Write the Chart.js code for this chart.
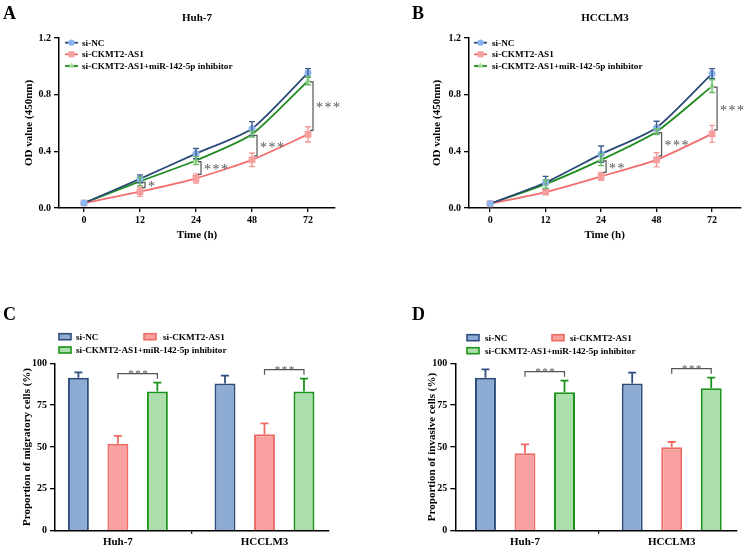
<!DOCTYPE html>
<html><head><meta charset="utf-8">
<script src="https://cdn.jsdelivr.net/npm/chart.js@4.4.0/dist/chart.umd.min.js"></script>
<style>
body{margin:0;background:#fff;width:745px;height:550px;position:relative;overflow:hidden;font-family:'Liberation Serif','Times New Roman',serif;}
.pane{position:absolute}
.lbl{position:absolute;font-weight:bold;color:#000;white-space:nowrap;line-height:1}
.ttl{position:absolute;font-weight:bold;color:#000;white-space:nowrap;font-size:11px;line-height:11px;transform:translate(-50%,-50%)}
</style></head><body>
<div class="pane" style="left:0;top:0"><canvas id="cA" width="372" height="250"></canvas></div>
<div class="pane" style="left:372px;top:0"><canvas id="cB" width="373" height="250"></canvas></div>
<div class="pane" style="left:0;top:270px"><canvas id="cC" width="372" height="280"></canvas></div>
<div class="pane" style="left:372px;top:270px"><canvas id="cD" width="373" height="280"></canvas></div>
<div class="lbl" style="left:3px;top:4px;font-size:18px">A</div>
<div class="lbl" style="left:412px;top:4px;font-size:18px">B</div>
<div class="lbl" style="left:3px;top:305px;font-size:18px">C</div>
<div class="lbl" style="left:412px;top:305px;font-size:18px">D</div>
<div class="ttl" style="left:197px;top:17px">Huh-7</div>
<div class="ttl" style="left:605px;top:17px">HCCLM3</div>
<script>
// ---------- DATA ----------
const timeLabels = ['0','12','24','48','72'];
const seriesNames = ['si-NC','si-CKMT2-AS1','si-CKMT2-AS1+miR-142-5p inhibitor'];
const odTicks = [0, 0.4, 0.8, 1.2];

const huh7NC      = [0.035, 0.206, 0.384, 0.560, 0.954];
const huh7NC_sd   = [0, 0.028, 0.036, 0.050, 0.030];
const huh7KD      = [0.035, 0.115, 0.209, 0.340, 0.520];
const huh7KD_sd   = [0, 0.033, 0.032, 0.047, 0.054];
const huh7INH     = [0.035, 0.188, 0.335, 0.520, 0.898];
const huh7INH_sd  = [0, 0.030, 0.028, 0.020, 0.028];
const huh7Sig     = ['', '*', '***', '***', '***'];

const lm3NC       = [0.030, 0.180, 0.380, 0.567, 0.949];
const lm3NC_sd    = [0, 0.043, 0.058, 0.045, 0.035];
const lm3KD       = [0.030, 0.112, 0.223, 0.340, 0.523];
const lm3KD_sd    = [0, 0.015, 0.028, 0.050, 0.060];
const lm3INH      = [0.030, 0.169, 0.340, 0.539, 0.860];
const lm3INH_sd   = [0, 0.030, 0.040, 0.020, 0.045];
const lm3Sig      = ['', '', '**', '***', '***'];

const cellLines = ['Huh-7','HCCLM3'];
const pctTicks = [0, 25, 50, 75, 100];
const migNC    = [91.4, 88.0];  const migNC_sd  = [3.2, 4.6];
const migKD    = [52.0, 57.6];  const migKD_sd  = [4.6, 6.5];
const migINH   = [83.1, 83.1];  const migINH_sd = [5.3, 7.7];
const migSig   = ['***','***'];
const invNC    = [91.4, 88.0];  const invNC_sd  = [5.0, 6.4];
const invKD    = [46.2, 49.8];  const invKD_sd  = [5.4, 3.2];
const invINH   = [82.7, 85.1];  const invINH_sd = [6.9, 6.3];
const invSig   = ['***','***'];

// ---------- STYLE ----------
const FONT = "'Liberation Serif','Times New Roman',serif";
const LINE_COL = ['#2c4a78','#f26d6d','#1e8c1e'];
const MARK_COL = ['#8cb6f2','#f6a0a0','#a4dc9e'];
const ERR_COL  = ['#3d5d8d','#f39a9a','#6cbf6a'];
const PSTYLE = ['circle','rect','triangle'];
const PRAD = [3.5, 4.8, 4];
const BAR_FILL = ['#8eabd3','#f9a1a1','#acdfab'];
const BAR_EDGE = ['#2d4d7d','#ee6a62','#1a931a'];
const SIG_COL = '#555';
const LEG_FONT = 'bold 9.2px ' + FONT;

function drawMarker(ctx, style, x, y, r, col){
  ctx.fillStyle = col;
  ctx.beginPath();
  if (style === 'circle') ctx.arc(x, y, r, 0, Math.PI*2);
  else if (style === 'rect') { const s = r*Math.SQRT1_2; ctx.rect(x-s, y-s, 2*s, 2*s); }
  else { ctx.moveTo(x, y-r); ctx.lineTo(x+r*0.866, y+r*0.5); ctx.lineTo(x-r*0.866, y+r*0.5); ctx.closePath(); }
  ctx.fill();
}

function axisCommon(tickLen){
  return {
    grid: {drawOnChartArea:false, drawTicks:true, tickLength:tickLen, color:'#000', lineWidth:1.3},
    border: {display:true, color:'#000', width:1.5}
  };
}

function lineChart(id, g, vals, sds, sig){
  const datasets = vals.map((v,k)=>({
    label: seriesNames[k],
    data: v.map((y,i)=>({x:i, y})),
    borderColor: LINE_COL[k], backgroundColor: MARK_COL[k],
    pointBackgroundColor: MARK_COL[k], pointBorderColor: MARK_COL[k], pointBorderWidth: 0,
    pointStyle: PSTYLE[k], pointRadius: PRAD[k], borderWidth: 1.8, tension: 0.2
  }));
  const extras = {
    id: 'extras',
    afterDatasetsDraw(chart){
      const ctx = chart.ctx, xs = chart.scales.x, ys = chart.scales.y;
      ctx.save();
      chart.data.datasets.forEach((ds,k)=>{
        ctx.strokeStyle = ERR_COL[k]; ctx.lineWidth = 1.4;
        ds.data.forEach((p,i)=>{
          const e = sds[k][i]; if (!e) return;
          const x = xs.getPixelForValue(p.x), y1 = ys.getPixelForValue(p.y+e), y2 = ys.getPixelForValue(p.y-e);
          ctx.beginPath();
          ctx.moveTo(x,y1); ctx.lineTo(x,y2);
          ctx.moveTo(x-3,y1); ctx.lineTo(x+3,y1);
          ctx.moveTo(x-3,y2); ctx.lineTo(x+3,y2);
          ctx.stroke();
        });
      });
      ctx.strokeStyle = SIG_COL; ctx.fillStyle = SIG_COL; ctx.lineWidth = 1.2;
      ctx.font = '14px ' + FONT; ctx.textBaseline = 'alphabetic'; ctx.textAlign = 'left';
      try { ctx.letterSpacing = '1.5px'; } catch(e){}
      sig.forEach((s,i)=>{
        if (!s) return;
        const gv = chart.data.datasets[2].data[i].y, rv = chart.data.datasets[1].data[i].y;
        const x = xs.getPixelForValue(i) + 5;
        const t = ys.getPixelForValue(gv) + 1, b = ys.getPixelForValue(rv) - 4;
        ctx.beginPath();
        ctx.moveTo(x-3,t); ctx.lineTo(x,t); ctx.lineTo(x,b); ctx.lineTo(x-3,b);
        ctx.stroke();
        ctx.fillText(s, x+3, (t+b)/2 + 6);
      });
      ctx.restore();
    },
    afterDraw(chart){
      const ctx = chart.ctx;
      ctx.save();
      try { ctx.letterSpacing = '0px'; } catch(e){}
      ctx.font = LEG_FONT; ctx.textBaseline = 'middle'; ctx.textAlign = 'left';
      g.legRows.forEach((y,k)=>{
        ctx.strokeStyle = LINE_COL[k]; ctx.lineWidth = 1.8;
        ctx.beginPath(); ctx.moveTo(g.legX0, y); ctx.lineTo(g.legX1, y); ctx.stroke();
        drawMarker(ctx, PSTYLE[k], (g.legX0+g.legX1)/2, y, PRAD[k]*0.9, MARK_COL[k]);
        ctx.fillStyle = '#000';
        ctx.fillText(seriesNames[k], g.legTX, y+0.5);
      });
      ctx.restore();
    }
  };
  return new Chart(document.getElementById(id), {
    type: 'line',
    data: {datasets},
    options: {
      responsive:false, animation:false, events:[],
      layout: {padding: {left:0, top:g.top, right:g.right, bottom:0}},
      plugins: {legend:{display:false}, tooltip:{enabled:false}},
      scales: {
        x: Object.assign(axisCommon(4), {
          type:'linear', min:g.xmin, max:g.xmax,
          afterBuildTicks: s => { s.ticks = timeLabels.map((_,i)=>({value:i})); },
          afterFit: s => { s.height = g.xh; },
          ticks: {callback: v => timeLabels[v], font:{family:FONT, size:10, weight:'bold'}, color:'#000', padding:2, maxRotation:0, autoSkip:false},
          title: {display:true, text:'Time (h)', color:'#000', font:{family:FONT, size:11, weight:'bold'}, padding:{top:0, bottom:g.xtp}}
        }),
        y: Object.assign(axisCommon(5), {
          min:0, max:1.2,
          afterBuildTicks: s => { s.ticks = odTicks.map(v=>({value:v})); },
          afterFit: s => { s.width = g.yw; },
          ticks: {callback: v => v.toFixed(1), font:{family:FONT, size:10, weight:'bold'}, color:'#000', padding:3},
          title: {display:true, text:'OD value (450nm)', color:'#000', font:{family:FONT, size:11, weight:'bold'}, padding:{top:g.ytp, bottom:0}}
        })
      }
    },
    plugins: [extras]
  });
}

function barChart(id, g, vals, sds, sig, ytitle){
  const datasets = vals.map((v,k)=>({
    label: seriesNames[k],
    data: v.map((y,i)=>({x:i, y})),
    backgroundColor: BAR_FILL[k], borderColor: BAR_EDGE[k], borderWidth: 2,
    categoryPercentage: 0.808, barPercentage: 0.53
  }));
  const extras = {
    id: 'extras',
    afterDatasetsDraw(chart){
      const ctx = chart.ctx, ys = chart.scales.y;
      ctx.save();
      chart.data.datasets.forEach((ds,k)=>{
        const meta = chart.getDatasetMeta(k);
        ctx.strokeStyle = BAR_EDGE[k]; ctx.lineWidth = 1.8;
        ds.data.forEach((p,i)=>{
          const x = meta.data[i].x;
          const y0 = ys.getPixelForValue(p.y), y1 = ys.getPixelForValue(p.y + sds[k][i]);
          ctx.beginPath();
          ctx.moveTo(x, y0); ctx.lineTo(x, y1);
          ctx.moveTo(x-4, y1); ctx.lineTo(x+4, y1);
          ctx.stroke();
        });
      });
      ctx.strokeStyle = SIG_COL; ctx.fillStyle = SIG_COL; ctx.lineWidth = 1.2;
      ctx.font = '11px ' + FONT; ctx.textAlign = 'center'; ctx.textBaseline = 'alphabetic';
      try { ctx.letterSpacing = '1.5px'; } catch(e){}
      const mR = chart.getDatasetMeta(1), mG = chart.getDatasetMeta(2);
      sig.forEach((s,i)=>{
        if (!s) return;
        const xa = mR.data[i].x, xb = mG.data[i].x;
        const top = chart.data.datasets[2].data[i].y + sds[2][i];
        const y = ys.getPixelForValue(top) - 9;
        ctx.beginPath();
        ctx.moveTo(xa, y+5); ctx.lineTo(xa, y); ctx.lineTo(xb, y); ctx.lineTo(xb, y+5);
        ctx.stroke();
        ctx.fillText(s, (xa+xb)/2 + 1, y + 3);
      });
      ctx.restore();
    },
    afterDraw(chart){
      const ctx = chart.ctx;
      ctx.save();
      try { ctx.letterSpacing = '0px'; } catch(e){}
      ctx.font = LEG_FONT; ctx.textBaseline = 'middle'; ctx.textAlign = 'left';
      g.leg.forEach((it,k)=>{
        ctx.fillStyle = BAR_FILL[k]; ctx.strokeStyle = BAR_EDGE[k]; ctx.lineWidth = 1.6;
        ctx.fillRect(it.bx, it.y-3, 12, 6);
        ctx.strokeRect(it.bx, it.y-3, 12, 6);
        ctx.fillStyle = '#000';
        ctx.fillText(seriesNames[k], it.tx, it.y+0.5);
      });
      ctx.restore();
    }
  };
  return new Chart(document.getElementById(id), {
    type: 'bar',
    data: {datasets},
    options: {
      responsive:false, animation:false, events:[],
      layout: {padding: {left:0, top:g.top, right:g.right, bottom:0}},
      plugins: {legend:{display:false}, tooltip:{enabled:false}},
      scales: {
        x: Object.assign(axisCommon(3), {
          type:'linear', min:g.xmin, max:g.xmax, offset:false,
          afterBuildTicks: s => { s.ticks = cellLines.map((_,i)=>({value:i})); },
          afterFit: s => { s.height = g.xh; },
          ticks: {callback: v => cellLines[v], font:{family:FONT, size:11, weight:'bold'}, color:'#000', padding:2, maxRotation:0, autoSkip:false}
        }),
        y: Object.assign(axisCommon(5), {
          min:0, max:100,
          afterBuildTicks: s => { s.ticks = pctTicks.map(v=>({value:v})); },
          afterFit: s => { s.width = g.yw; },
          ticks: {font:{family:FONT, size:10, weight:'bold'}, color:'#000', padding:3},
          title: {display:true, text:ytitle, color:'#000', font:{family:FONT, size:11, weight:'bold'}, padding:{top:g.ytp, bottom:0}}
        })
      }
    },
    plugins: [extras]
  });
}

lineChart('cA', {top:38, right:37, yw:59, xh:42, xmin:-0.446, xmax:4.482, xtp:8.4, ytp:22.4,
  legX0:65, legX1:78, legTX:82, legRows:[42.7,54.3,66]},
  [huh7NC, huh7KD, huh7INH], [huh7NC_sd, huh7KD_sd, huh7INH_sd], huh7Sig);
lineChart('cB', {top:38, right:3, yw:97, xh:42, xmin:-0.381, xmax:4.507, xtp:8.4, ytp:58.4,
  legX0:102, legX1:115, legTX:120, legRows:[42.7,54.3,66]},
  [lm3NC, lm3KD, lm3INH], [lm3NC_sd, lm3KD_sd, lm3INH_sd], lm3Sig);
barChart('cC', {top:93.3, right:43, yw:55, xh:19.3, xmin:-0.429, xmax:1.44, ytp:20.4,
  leg:[{bx:59,tx:76,y:66.7},{bx:144,tx:163,y:66.7},{bx:59,tx:76,y:80}]},
  [migNC, migKD, migINH], [migNC_sd, migKD_sd, migINH_sd], migSig, 'Proportion of migratory cells (%)');
barChart('cD', {top:93.3, right:8, yw:83.3, xh:19.3, xmin:-0.475, xmax:1.445, ytp:53.4,
  leg:[{bx:95,tx:113,y:67.7},{bx:180,tx:198,y:67.7},{bx:95,tx:113,y:80.7}]},
  [invNC, invKD, invINH], [invNC_sd, invKD_sd, invINH_sd], invSig, 'Proportion of invasive cells (%)');
</script>
</body></html>
